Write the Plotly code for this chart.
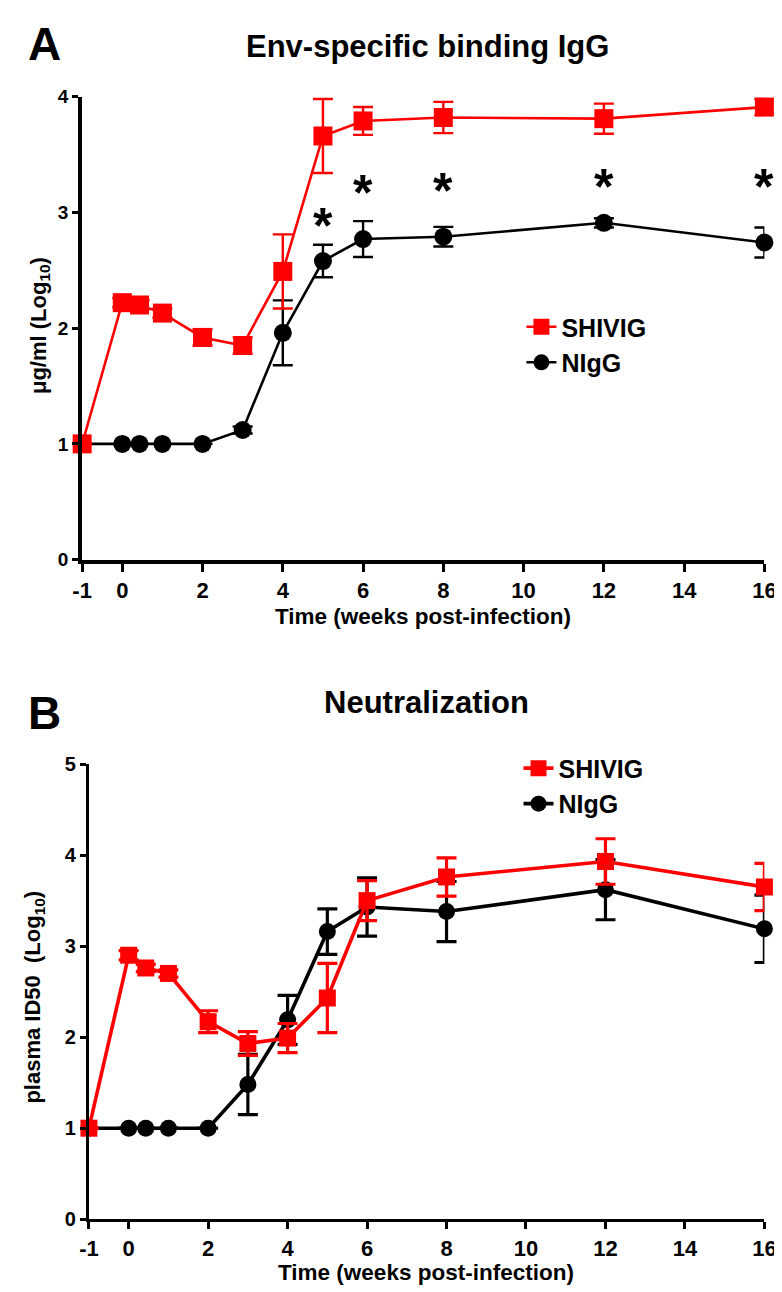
import plotly.graph_objects as go

# ---------------- data ----------------
weeks = [-1, 0, 0.43, 1, 2, 3, 4, 5, 6, 8, 12, 16]

# Panel A: Env-specific binding IgG (ug/ml, log10)
a_shivig = [1.0, 2.22, 2.20, 2.13, 1.92, 1.85, 2.49, 3.66, 3.79, 3.82, 3.81, 3.91]
a_shivig_err = [0, 0.04, 0.04, 0.04, 0.07, 0.07, 0.32, 0.32, 0.12, 0.135, 0.13, 0.07]
a_nigg = [1.0, 1.0, 1.0, 1.0, 1.0, 1.12, 1.96, 2.58, 2.77, 2.79, 2.91, 2.74]
a_nigg_err = [0, 0, 0, 0, 0, 0.03, 0.28, 0.14, 0.155, 0.085, 0.04, 0.13]

sig_weeks = [5, 6, 8, 12, 16]
sig_y = [3.0, 3.29, 3.31, 3.34, 3.34]

# Panel B: Neutralization (plasma ID50, log10)
b_shivig = [1.0, 2.90, 2.76, 2.70, 2.17, 1.93, 1.99, 2.43, 3.50, 3.76, 3.93, 3.65]
b_shivig_err = [0, 0.05, 0.04, 0.04, 0.12, 0.13, 0.16, 0.38, 0.22, 0.21, 0.25, 0.26]
b_nigg = [1.0, 1.0, 1.0, 1.0, 1.0, 1.48, 2.19, 3.16, 3.43, 3.38, 3.62, 3.19]
b_nigg_err = [0, 0, 0, 0, 0, 0.33, 0.27, 0.25, 0.32, 0.33, 0.33, 0.37]

x_ticks = [-1, 0, 2, 4, 6, 8, 10, 12, 14, 16]
x_tick_labels = ["-1", "0", "2", "4", "6", "8", "10", "12", "14", "16"]
a_y_ticks = [0, 1, 2, 3, 4]
b_y_ticks = [0, 1, 2, 3, 4, 5]

RED = "#ff0000"
BLACK = "#000000"
FONT = "Liberation Sans, Arial, Helvetica, sans-serif"

W, H = 782, 1292


def px_x(p):
    return p / W


def px_y(p):
    return 1 - p / H


fig = go.Figure()

# ---- Panel A ----
fig.add_trace(go.Scatter(
    x=weeks, y=a_nigg, name="NIgG", mode="lines+markers",
    line=dict(color=BLACK, width=2.6),
    marker=dict(symbol="circle", size=18, color=BLACK),
    error_y=dict(type="data", array=a_nigg_err, color=BLACK, thickness=2.4, width=10),
    xaxis="x", yaxis="y", cliponaxis=False, legend="legend",
))
fig.add_trace(go.Scatter(
    x=weeks, y=a_shivig, name="SHIVIG", mode="lines+markers",
    line=dict(color=RED, width=2.6),
    marker=dict(symbol="square", size=19, color=RED),
    error_y=dict(type="data", array=a_shivig_err, color=RED, thickness=2.4, width=10),
    xaxis="x", yaxis="y", cliponaxis=False, legend="legend",
))

# ---- Panel B ----
fig.add_trace(go.Scatter(
    x=weeks, y=b_nigg, name="NIgG", mode="lines+markers",
    line=dict(color=BLACK, width=3.6),
    marker=dict(symbol="circle", size=17, color=BLACK),
    error_y=dict(type="data", array=b_nigg_err, color=BLACK, thickness=3.2, width=10),
    xaxis="x2", yaxis="y2", cliponaxis=False, legend="legend2",
))
fig.add_trace(go.Scatter(
    x=weeks, y=b_shivig, name="SHIVIG", mode="lines+markers",
    line=dict(color=RED, width=3.6),
    marker=dict(symbol="square", size=17, color=RED),
    error_y=dict(type="data", array=b_shivig_err, color=RED, thickness=3.2, width=10),
    xaxis="x2", yaxis="y2", cliponaxis=False, legend="legend2",
))

axis_common = dict(
    showline=True, linecolor=BLACK, ticks="outside", tickcolor=BLACK,
    showgrid=False, zeroline=False, fixedrange=True,
)

fig.update_layout(
    width=W, height=H,
    margin=dict(l=0, r=0, t=0, b=0),
    paper_bgcolor="white", plot_bgcolor="white",
    font=dict(family=FONT, color=BLACK, weight="bold"),
    showlegend=True,
    xaxis=dict(domain=[px_x(66), px_x(768)], range=[-1, 16], anchor="y",
               tickvals=x_ticks, ticktext=x_tick_labels, linewidth=4,
               ticklen=8, tickwidth=3,
               tickfont=dict(size=22, family=FONT, weight="bold"), **axis_common),
    yaxis=dict(domain=[px_y(550), px_y(79)], range=[0, 4], anchor="x",
               tickvals=a_y_ticks, linewidth=4, ticklen=6, tickwidth=3,
               tickfont=dict(size=19, family=FONT, weight="bold"), **axis_common),
    xaxis2=dict(domain=[px_x(73), px_x(768)], range=[-1, 16], anchor="y2",
                tickvals=x_ticks, ticktext=x_tick_labels, linewidth=3,
                ticklen=7, tickwidth=3,
                tickfont=dict(size=22, family=FONT, weight="bold"), **axis_common),
    yaxis2=dict(domain=[px_y(1221), px_y(758)], range=[0, 5], anchor="x2",
                tickvals=b_y_ticks, linewidth=3, ticklen=6, tickwidth=3,
                tickfont=dict(size=20, family=FONT, weight="bold"), **axis_common),
    legend=dict(x=px_x(518), y=px_y(290), xanchor="left", yanchor="top",
                traceorder="reversed", bgcolor="rgba(0,0,0,0)",
                font=dict(size=25, family=FONT, weight="bold"), tracegroupgap=0),
    legend2=dict(x=px_x(515), y=px_y(739), xanchor="left", yanchor="top",
                 traceorder="reversed", bgcolor="rgba(0,0,0,0)",
                 font=dict(size=25, family=FONT, weight="bold"), tracegroupgap=0),
)

annotations = [
    dict(text="A", x=px_x(27), y=px_y(25), font=dict(size=46)),
    dict(text="B", x=px_x(27), y=px_y(706), font=dict(size=46)),
    dict(text="Env-specific binding IgG", x=px_x(421), y=px_y(28), font=dict(size=31)),
    dict(text="Neutralization", x=px_x(420), y=px_y(695), font=dict(size=31)),
    dict(text="Time (weeks post-infection)", x=px_x(417), y=px_y(608), font=dict(size=22.5)),
    dict(text="Time (weeks post-infection)", x=px_x(420), y=px_y(1275), font=dict(size=22.5)),
    dict(text="μg/ml (Log<sub>10</sub>)", x=px_x(22), y=px_y(312), textangle=-90,
         font=dict(size=22)),
    dict(text="plasma ID50  (Log<sub>10</sub>)", x=px_x(17), y=px_y(995), textangle=-90,
         font=dict(size=22)),
]
for a in annotations:
    a.update(xref="paper", yref="paper", showarrow=False, xanchor="center", yanchor="middle")
    a["font"].update(family=FONT, color=BLACK, weight="bold")

for t, yv in zip(sig_weeks, sig_y):
    annotations.append(dict(
        text="*", x=t, y=yv, xref="x", yref="y", showarrow=False,
        xanchor="center", yanchor="middle", yshift=-14,
        font=dict(size=50, family=FONT, color=BLACK, weight="bold"),
    ))

fig.update_layout(annotations=annotations)

fig.write_html("out.html")
